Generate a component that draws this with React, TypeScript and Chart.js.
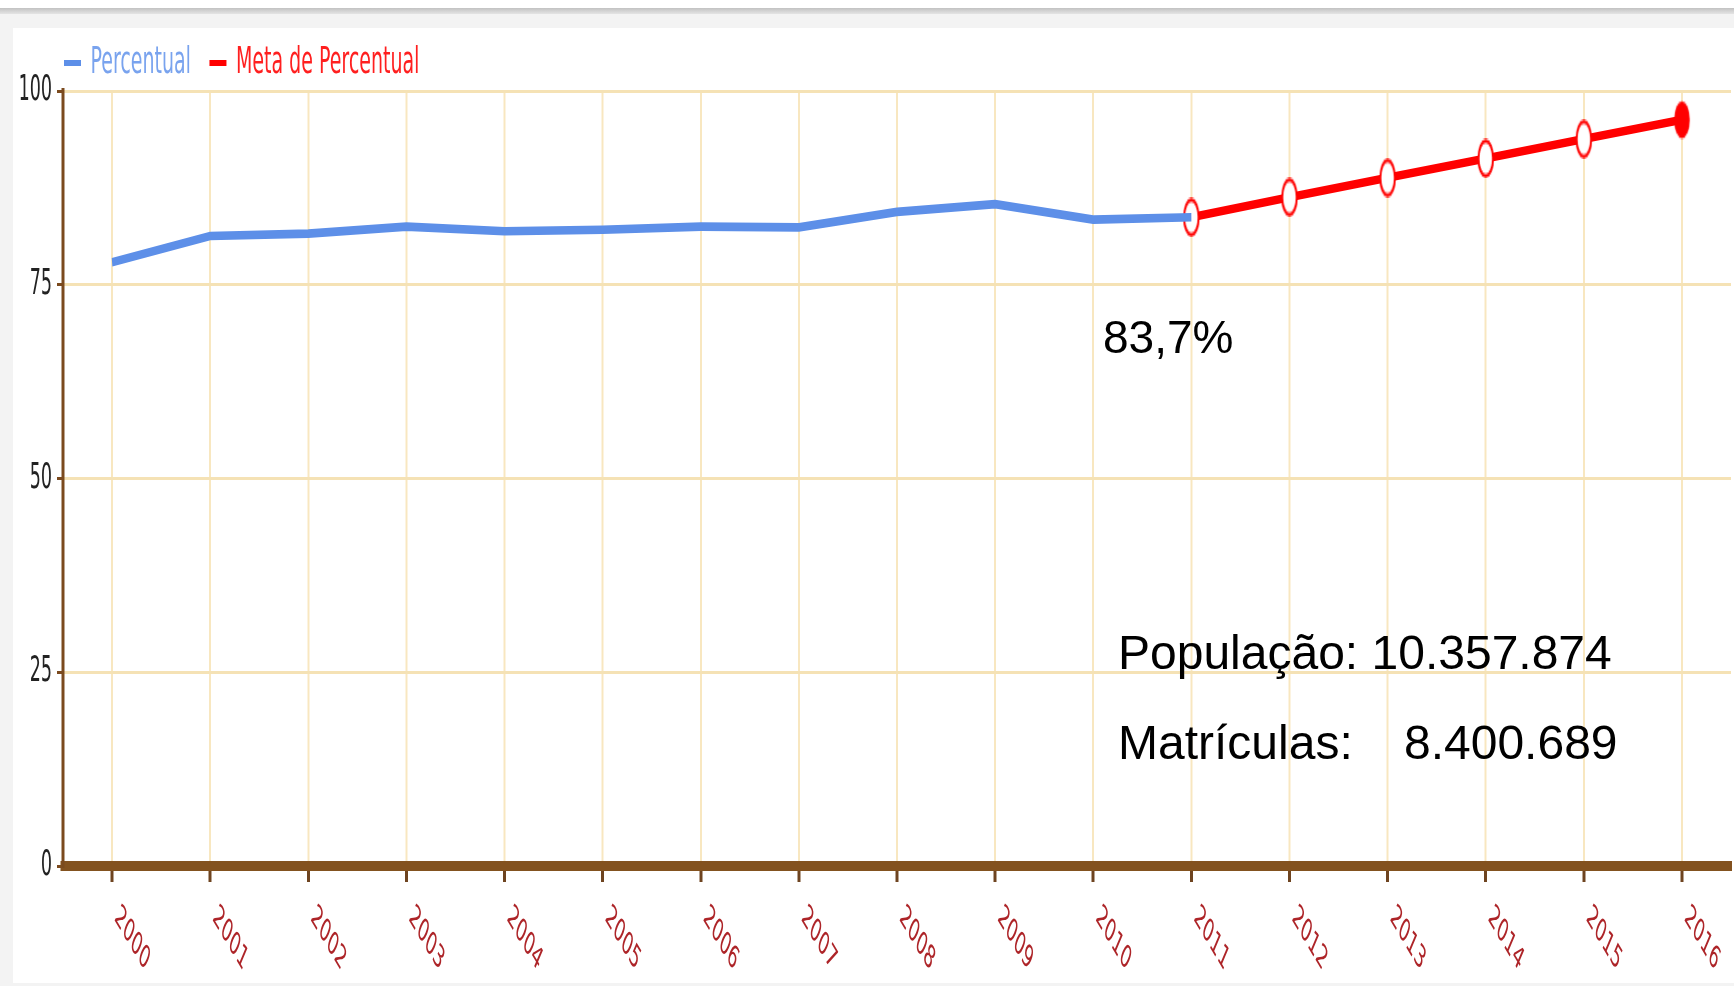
import React, { useEffect, useRef } from 'react';
import { Chart, registerables } from 'chart.js';

Chart.register(...registerables);

// ---- data ----
const years = ['2000', '2001', '2002', '2003', '2004', '2005', '2006', '2007', '2008', '2009', '2010', '2011', '2012', '2013', '2014', '2015', '2016'];
const percentual = [77.9, 81.3, 81.6, 82.5, 81.9, 82.1, 82.5, 82.4, 84.4, 85.4, 83.4, 83.7, null, null, null, null, null];
const metaPercentual = [null, null, null, null, null, null, null, null, null, null, null, 83.7, 86.3, 88.8, 91.3, 93.8, 96.3];
const yTickValues = [0, 25, 50, 75, 100];
const seriesNames = ['Percentual', 'Meta de Percentual'];
const percentNote = '83,7%';
const populacaoNote = 'População: 10.357.874';
const matriculasLabel = 'Matrículas:';
const matriculasValue = '8.400.689';

// ---- styling ----
const K = 2; // vertical stretch of the original picture
const W = 1734;
const H = 493;
const BLUE = '#5d8fe8';
const RED = '#ff0000';
const BROWN = '#7b4a1e';

function makeMarker(filled: boolean) {
  const c = document.createElement('canvas');
  c.width = 18;
  c.height = 20;
  const g = c.getContext('2d')!;
  g.beginPath();
  g.ellipse(9, 10, filled ? 7.8 : 7.3, filled ? 9.2 : 8.8, 0, 0, Math.PI * 2);
  g.fillStyle = filled ? RED : '#ffffff';
  g.fill();
  if (!filled) {
    g.lineWidth = 2;
    g.strokeStyle = RED;
    g.stroke();
  }
  return c;
}

const xLabelPlugin = {
  id: 'xLabels',
  afterDraw(chart: any) {
    const ctx = chart.ctx;
    const xs = chart.scales.x;
    const bottom = chart.chartArea.bottom;
    ctx.save();
    ctx.font = '16px "DejaVu Sans"';
    ctx.fillStyle = '#ad2428';
    ctx.textAlign = 'left';
    ctx.textBaseline = 'middle';
    xs.ticks.forEach((_t: any, i: number) => {
      const x = xs.getPixelForTick(i);
      ctx.save();
      ctx.translate(x + 4.4, bottom + 23.3);
      ctx.rotate((40 * Math.PI) / 180);
      ctx.fillText(String(xs.getLabelForValue(i)), 0, 0);
      ctx.restore();
    });
    ctx.restore();
  },
};

const legendShiftPlugin = {
  id: 'legendShift',
  afterLayout(chart: any) {
    const lg = chart.legend;
    if (lg) {
      lg.left += 35.5;
      lg.top += 5.5;
    }
  },
};

export default function App() {
  const ref = useRef<HTMLCanvasElement>(null);

  useEffect(() => {
    document.body.style.margin = '0';
    const hollow = makeMarker(false);
    const filled = makeMarker(true);
    const legendTextColors = ['#79a3ee', '#ff1f1f'];
    const legendBoxColors = [BLUE, RED];

    const chart = new Chart(ref.current!, {
      type: 'line',
      data: {
        labels: years,
        datasets: [
          {
            label: seriesNames[0],
            data: percentual,
            borderColor: BLUE,
            backgroundColor: BLUE,
            borderWidth: 4.3,
            pointRadius: 0,
            tension: 0,
            borderJoinStyle: 'round',
          },
          {
            label: seriesNames[1],
            data: metaPercentual,
            borderColor: RED,
            backgroundColor: RED,
            borderWidth: 4.3,
            pointRadius: 8,
            pointStyle: (c: any) => (c.dataIndex === years.length - 1 ? filled : hollow),
            tension: 0,
          },
        ],
      } as any,
      options: {
        responsive: false,
        maintainAspectRatio: false,
        animation: false,
        devicePixelRatio: 2,
        layout: { autoPadding: false, padding: { left: 10, right: 3, top: -2, bottom: 0 } },
        plugins: {
          tooltip: { enabled: false },
          title: { display: false },
          legend: {
            display: true,
            position: 'top',
            align: 'start',
            labels: {
              boxWidth: 17,
              boxHeight: 3,
              padding: 18.5,
              font: { family: 'DejaVu Sans', size: 19 },
              generateLabels(ch: any) {
                const items = (Chart.defaults as any).plugins.legend.labels.generateLabels(ch);
                return items.map((it: any, i: number) => ({
                  ...it,
                  lineWidth: 0,
                  fontColor: legendTextColors[i],
                  fillStyle: legendBoxColors[i],
                }));
              },
            },
          },
        },
        scales: {
          x: {
            type: 'category',
            offset: true,
            ticks: { display: false },
            grid: {
              color: '#f8e7c0',
              lineWidth: 2,
              offset: false,
              drawTicks: true,
              tickLength: 8,
              tickColor: '#6e4420',
              tickWidth: 3,
            },
            border: { display: true, color: '#83521f', width: 5 },
            afterFit(s: any) {
              s.height = 60;
            },
          },
          y: {
            min: 0,
            max: 100,
            afterBuildTicks(s: any) {
              s.ticks = yTickValues.map((v) => ({ value: v }));
            },
            ticks: {
              padding: 5,
              color: '#222222',
              font: { family: 'DejaVu Sans', size: 17.5 },
            },
            grid: {
              color: '#f5e2b5',
              lineWidth: 1.5,
              drawTicks: true,
              tickLength: 6,
              tickColor: BROWN,
              tickWidth: 1.5,
            },
            border: { display: true, color: BROWN, width: 3 },
            afterFit(s: any) {
              s.width = 53;
            },
          },
        },
      } as any,
      plugins: [xLabelPlugin, legendShiftPlugin],
    });
    return () => chart.destroy();
  }, []);

  const noteFont = '"Liberation Sans", Arial, Helvetica, sans-serif';

  return (
    <div style={{ position: 'relative', width: W, height: 986, overflow: 'hidden', background: '#f3f3f3' }}>
      <div style={{ position: 'absolute', left: 0, top: 0, width: W, height: 8, background: '#ffffff' }} />
      <div style={{ position: 'absolute', left: 0, top: 8, width: W, height: 6, background: 'linear-gradient(#c2c2c2, #e4e4e4)' }} />
      <div style={{ position: 'absolute', left: 13, top: 28, right: 0, bottom: 3, background: '#ffffff' }} />
      <div style={{ position: 'absolute', left: 0, top: 0, width: W, height: H, transform: `scaleY(${K})`, transformOrigin: '0 0' }}>
        <canvas ref={ref} width={W} height={H} />
      </div>
      <div style={{ position: 'absolute', left: 1103, top: 314, fontFamily: noteFont, fontSize: 46, lineHeight: 1, color: '#000', whiteSpace: 'pre' }}>
        {percentNote}
      </div>
      <div style={{ position: 'absolute', left: 1118, top: 629.4, fontFamily: noteFont, fontSize: 48, lineHeight: 1, color: '#000', whiteSpace: 'pre' }}>
        {populacaoNote}
      </div>
      <div style={{ position: 'absolute', left: 1118, top: 719.4, fontFamily: noteFont, fontSize: 48, lineHeight: 1, color: '#000', whiteSpace: 'pre' }}>
        {matriculasLabel}
      </div>
      <div style={{ position: 'absolute', left: 1404, top: 719.4, fontFamily: noteFont, fontSize: 48, lineHeight: 1, color: '#000', whiteSpace: 'pre' }}>
        {matriculasValue}
      </div>
    </div>
  );
}
